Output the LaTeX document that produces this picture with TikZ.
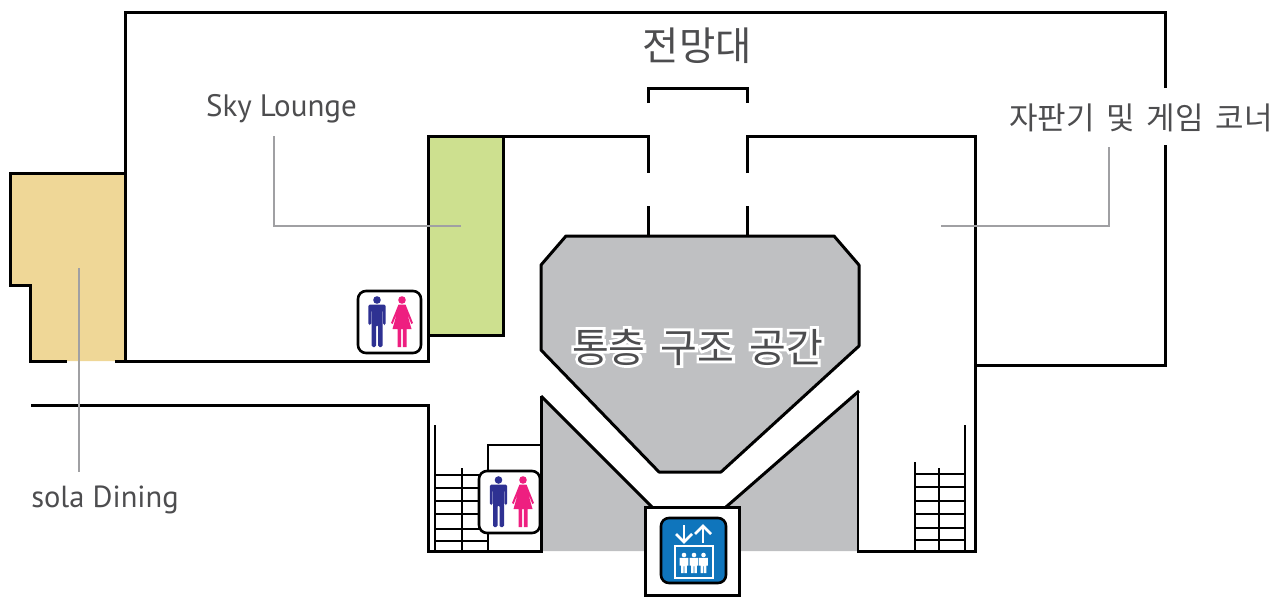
\documentclass[tikz,border=0pt]{standalone}
\usepackage{fontspec}
\setmainfont{PT Sans}
\newfontfamily\cjk{Noto Sans CJK KR}
\newfontfamily\cjkhalo[FakeBold=14]{Noto Sans CJK KR}
\definecolor{wallgray}{HTML}{BFC0C2}
\definecolor{leadgray}{HTML}{A0A0A3}
\definecolor{txtgray}{HTML}{4D4D4F}
\definecolor{roomtan}{HTML}{EFD797}
\definecolor{roomgreen}{HTML}{CDE08F}
\definecolor{manblue}{HTML}{2E3192}
\definecolor{womanpink}{HTML}{EE1F80}
\definecolor{liftblue}{HTML}{0F75BC}
\tikzstyle{wall}=[line width=3pt, black]
\tikzstyle{thinwall}=[line width=2.6pt, black]
\tikzstyle{lead}=[line width=2.5pt, leadgray]
\tikzstyle{label}=[inner sep=0pt, text=txtgray]
\tikzstyle{sign}=[draw=black, line width=2.6pt, fill=white, rounded corners=8pt]
\tikzset{
man/.pic={
  \fill[manblue] (0,0) circle (3.8);
  \fill[manblue, rounded corners=1.5pt] (-8.7,25) -- (-8.7,4.5) -- (8.7,4.5) -- (8.7,25) -- (6,25) -- (6,10) -- (5.5,10) -- (5.5,47) -- (1,47) -- (1,25) -- (-1,25) -- (-1,47) -- (-5.5,47) -- (-5.5,10) -- (-6,10) -- (-6,25) -- cycle;
},
woman/.pic={
  \fill[womanpink] (0,0) circle (3.8);
  \fill[womanpink] (-3.5,4.5) -- (3.5,4.5) -- (11,23) -- (9.3,24) -- (5,13) -- (9.5,29) -- (4.5,29) -- (4.5,47) -- (0.8,47) -- (0.8,29) -- (-0.8,29) -- (-0.8,47) -- (-4.5,47) -- (-4.5,29) -- (-9.5,29) -- (-5,13) -- (-9.3,24) -- (-11,23) -- cycle;
},
rider/.pic={
  \fill[white] (0,0) circle (2.3);
  \fill[white] (-4.3,2.8) -- (4.3,2.8) -- (4.3,10.5) -- (2.9,10.5) -- (2.9,18) -- (0.4,18) -- (0.4,11) -- (-0.4,11) -- (-0.4,18) -- (-2.9,18) -- (-2.9,10.5) -- (-4.3,10.5) -- cycle;
}
}
\begin{document}
\begin{tikzpicture}[x=1pt,y=-1pt]
\useasboundingbox (0,0) rectangle (1274,605);

%The rooms
\fill[roomtan] (10,173) -- (125,173) -- (125,361) -- (30,361) -- (30,285) -- (10,285) -- cycle;
\fill[roomgreen] (428.5,136) rectangle (503.5,335);
\fill[wallgray] (566,236) -- (834,236) -- (859,265) -- (859,346) -- (721,472) -- (659,472) -- (541,350) -- (541,265) -- cycle;
\fill[wallgray] (541,396) -- (652,507) -- (645,507) -- (645,551) -- (541,551) -- cycle;
\fill[wallgray] (858,391) -- (726,507) -- (740,507) -- (740,551) -- (858,551) -- cycle;

%The outer walls
\draw[wall] (1165.5,88) -- (1165.5,12) -- (125,12) -- (125,361);
\draw[wall] (1165.5,145) -- (1165.5,365) -- (975.5,365);
\draw[wall] (125,173) -- (10,173) -- (10,285) -- (30,285) -- (30,361) -- (67,361);
\draw[wall] (115,361) -- (428.5,361) -- (428.5,136) -- (648,136) -- (648,173);
\draw[wall] (428.5,335) -- (503.5,335) -- (503.5,136);
\draw[wall] (648,103) -- (648,88) -- (747,88) -- (747,103);
\draw[wall] (747,173) -- (747,136) -- (975.5,136) -- (975.5,551) -- (857,551);
\draw[wall] (648,206) -- (648,236);
\draw[wall] (747,206) -- (747,236);
\draw[wall] (31,405) -- (428.5,405) -- (428.5,551) -- (541,551) -- (541,396);

%The core
\draw[wall, line join=bevel] (566,236) -- (834,236) -- (859,265) -- (859,346) -- (721,472) -- (659,472) -- (541,350) -- (541,265) -- cycle;
\draw[wall] (541,396) -- (652,507);
\draw[wall] (859,391) -- (726,507);
\draw[thinwall] (858,391) -- (858,551);

%The left stairs
\draw[thinwall] (435,425) -- (435,551);
\draw[thinwall] (462,468) -- (462,551);
\draw[thinwall] (488,551) -- (488,445) -- (541,445);
\foreach \y in {475,488,501,514,529,541}
  \draw[thinwall] (435,\y) -- (488,\y);

%The right stairs
\draw[thinwall] (915,462) -- (915,551);
\draw[thinwall] (939,468) -- (939,551);
\draw[thinwall] (965,425) -- (965,551);
\foreach \y in {474,487,501,514,528,540}
  \draw[thinwall] (915,\y) -- (965,\y);

%The signs
\draw[sign] (358,291) rectangle (421,353);
\pic at (377,300) {man};
\pic at (402,300) {woman};
\draw[sign] (479,471) rectangle (540,533);
\pic at (498.5,480) {man};
\pic at (523,480) {woman};

%The lift
\draw[wall, fill=white] (645,507) rectangle (739,595);
\draw[sign, fill=liftblue] (661,518) rectangle (726,583);
\draw[white, line width=2.8pt] (684,525) -- (684,541);
\draw[white, line width=2.8pt] (676,534) -- (684,542) -- (692,534);
\draw[white, line width=2.8pt] (703,527) -- (703,543);
\draw[white, line width=2.8pt] (695,534) -- (703,526) -- (711,534);
\draw[white, line width=2.6pt] (675,546) rectangle (713,578);
\pic at (684,555) {rider};
\pic at (694,555) {rider};
\pic at (703.5,555) {rider};

%The labels
\draw (281.5,109) node[label, font=\fontsize{31}{36}\selectfont] (sky) {Sky Lounge};
\draw (105,500) node[label, font=\fontsize{30.5}{36}\selectfont] (sola) {sola Dining};
\draw (697.5,46) node[label, font=\cjk\fontsize{39.5}{46}\selectfont] (deck) {전망대};
\draw (1141,118) node[label, font=\cjk\fontsize{31}{36}\selectfont] (vending) {자판기\hspace{5pt} 및\hspace{5pt} 게임\hspace{5pt} 코너};
\draw (697.5,347) node[label, font=\fontsize{40}{46}\selectfont] (atrium) {\rlap{\color{white}\cjkhalo 통층\hspace{6pt} 구조\hspace{6pt} 공간}{\cjk 통층\hspace{6pt} 구조\hspace{6pt} 공간}};

%The leaders
\coordinate (skyend) at (461,226);
\coordinate (vendingend) at (941,226);
\coordinate (solaend) at (79,268);
\draw[lead] (274,136) -- (274,226) -- (skyend);
\draw[lead] (1109,147) -- (1109,226) -- (vendingend);
\draw[lead] (solaend) -- (79,472);
\end{tikzpicture}
\end{document}
